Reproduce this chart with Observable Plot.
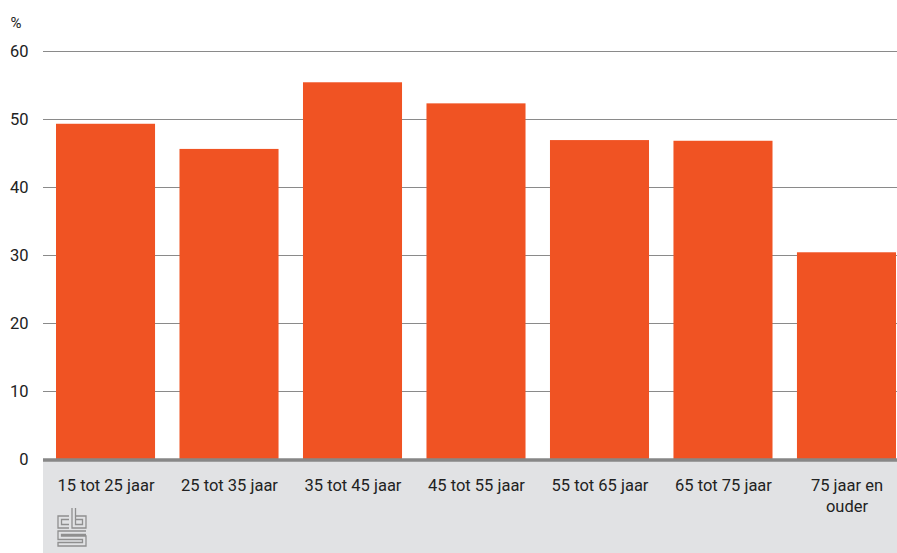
<!DOCTYPE html>
<html><head><meta charset="utf-8">
<script src="https://cdn.jsdelivr.net/npm/d3@7"></script>
<script src="https://cdn.jsdelivr.net/npm/@observablehq/plot@0.6"></script>
<style>body{margin:0;background:#fff} svg{display:block}</style>
</head><body><div id="chart"></div>
<script>
const categories = ["15 tot 25 jaar","25 tot 35 jaar","35 tot 45 jaar","45 tot 55 jaar","55 tot 65 jaar","65 tot 75 jaar","75 jaar en ouder"];
const tickLabels = ["15 tot 25 jaar","25 tot 35 jaar","35 tot 45 jaar","45 tot 55 jaar","55 tot 65 jaar","65 tot 75 jaar","75 jaar en\nouder"];
const values = [49.3, 45.6, 55.4, 52.3, 46.9, 46.8, 30.4];
const yTicks = [0, 10, 20, 30, 40, 50, 60];
const unitLabel = "%";

const data = categories.map((c, i) => ({category: c, value: values[i]}));
const labelOf = new Map(categories.map((c, i) => [c, tickLabels[i]]));

const chart = Plot.plot({
  width: 897, height: 553,
  marginLeft: 43, marginRight: 0, marginTop: 51, marginBottom: 94,
  style: {fontFamily: "Roboto, 'Noto Sans', sans-serif", fontSize: "15px", color: "#222", background: "#fff", overflow: "visible"},
  x: {domain: categories, range: [56, 896], paddingInner: 0.198, paddingOuter: 0, round: false},
  y: {domain: [0, 60], range: [459, 51]},
  marks: [
    Plot.ruleY(yTicks.filter(d => d > 0), {stroke: "#8a8a8a", strokeWidth: 1}),
    Plot.barY(data, {x: "category", y: "value", fill: "#f05323"}),
    Plot.axisY({ticks: yTicks, tickSize: 0, tickPadding: 15, label: null, fontSize: 16.5, fill: "#222"}),
    Plot.axisX({tickSize: 0, tickPadding: 16, label: null, tickFormat: d => labelOf.get(d), fontSize: 16.5, fill: "#222", lineHeight: 1.3}),
    Plot.text([unitLabel], {frameAnchor: "top-left", text: d => d, dx: -33, dy: -24, textAnchor: "start", lineAnchor: "bottom", fontSize: 15, fill: "#222"})
  ]
});

const svg = d3.select(chart);
// grey footer band
svg.insert("rect", ":first-child")
  .attr("x", 43).attr("y", 459).attr("width", 854).attr("height", 94).attr("fill", "#e1e2e4");
// baseline
svg.append("line").attr("x1", 43).attr("x2", 897).attr("y1", 460).attr("y2", 460)
  .attr("stroke", "#878787").attr("stroke-width", 3.5);
// logo
const g = svg.append("g").attr("fill", "none").attr("stroke", "#8f8f8f").attr("stroke-width", 1.3);
const logoPaths = [
  "M69,516 H58 V528 H69",
  "M69,519.5 H61.5 V524.5 H69",
  "M72,508 V528 H86 V516 H75.5",
  "M75.5,508 V524.5 H82.5 V519.5 H75.5",
  "M86,531 H58 V539.5 H82.5 V542.5 H58 V546 H86 V536 H61.5 V534.5 H86"
];
logoPaths.forEach(p => g.append("path").attr("d", p));

document.getElementById("chart").appendChild(chart);
</script>
</body></html>
